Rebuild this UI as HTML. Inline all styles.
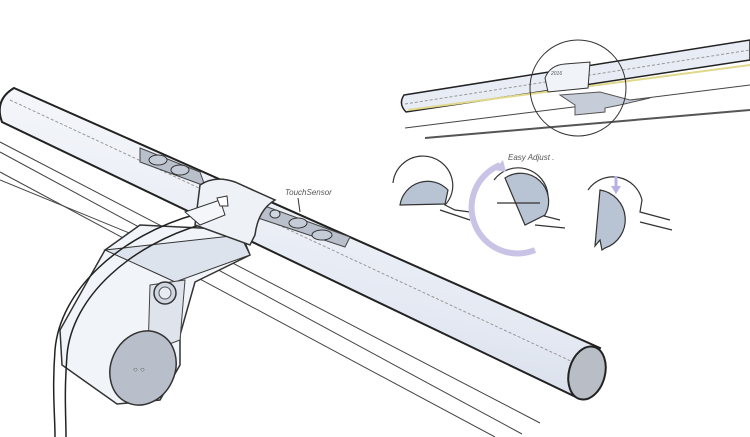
<!DOCTYPE html>
<html><head><meta charset="utf-8"><style>
html,body{margin:0;padding:0;background:#fff;width:750px;height:437px;overflow:hidden}
svg{display:block}
text{font-family:"Liberation Sans",sans-serif;fill:#555;font-style:italic}
</style></head><body>
<svg width="750" height="437" viewBox="0 0 750 437" xmlns="http://www.w3.org/2000/svg">
<defs>
<linearGradient id="bar" x1="0" y1="0" x2="-0.3" y2="1" gradientUnits="objectBoundingBox">
<stop offset="0" stop-color="#f4f6fa"/><stop offset="0.5" stop-color="#e3e8f2"/><stop offset="1" stop-color="#c9d1e0"/>
</linearGradient>
</defs>
<!-- monitor lines -->
<g stroke="#444" stroke-width="1" fill="none">
<path d="M0 142 L540 423"/>
<path d="M0 152 L522 434"/>
<path d="M0 172 L495 437"/>
<path d="M0 180 L200 262"/>
</g>
<!-- clamp body -->
<path d="M105 250 L140 225 L240 230 L250 255 L195 282 L180 335 L180 365 L160 400 L117 404 L62 365 L60 330 Z" fill="#f1f4f8" stroke="#333" stroke-width="1.5"/>
<path d="M105 250 L240 235 L250 255 L175 282 L160 275 Z" fill="#dde3ec" stroke="#333" stroke-width="1"/>
<path d="M150 285 L185 280 L180 340 L148 352 Z" fill="#dfe4ec" stroke="#444" stroke-width="1"/>
<circle cx="165" cy="293" r="11" fill="#cfd6e2" stroke="#333" stroke-width="1.5"/>
<circle cx="165" cy="293" r="6" fill="#e8ecf2" stroke="#555"/>
<ellipse cx="143" cy="368" rx="32" ry="38" transform="rotate(25 143 368)" fill="#b9bfca" stroke="#333" stroke-width="1.5"/>
<text x="133" y="372" font-size="8" style="font-style:normal" fill="#444">○ ○</text>
<!-- cable -->
<path d="M197 214 C120 235 60 290 55 350 C52 390 55 415 55 437" fill="none" stroke="#222" stroke-width="1.5"/>
<path d="M203 224 C130 245 72 297 67 355 C64 395 66 415 66 437" fill="none" stroke="#222" stroke-width="1.5"/>
<!-- main bar -->
<path d="M14 88 L600 348 L578 398 L2 122 Q-6 100 14 88 Z" fill="url(#bar)" stroke="#222" stroke-width="2"/>
<path d="M10 100 L590 370" stroke="#999" stroke-width="1" stroke-dasharray="3 2" fill="none"/>
<ellipse cx="587" cy="373" rx="18" ry="27" transform="rotate(15 587 373)" fill="#b8bdc6" stroke="#222" stroke-width="2"/>
<!-- button panels -->
<path d="M140 148 L200 172 L205 186 L140 162 Z" fill="#b9c0cc" stroke="#444"/>
<ellipse cx="158" cy="160" rx="9" ry="5" fill="#c5ccd8" stroke="#333"/>
<ellipse cx="180" cy="170" rx="9" ry="5" fill="#c5ccd8" stroke="#333"/>
<path d="M262 205 L350 237 L345 247 L258 218 Z" fill="#b9c0cc" stroke="#444"/>
<ellipse cx="275" cy="214" rx="5" ry="4" fill="#d0d6e0" stroke="#333"/>
<ellipse cx="298" cy="223" rx="9" ry="5" fill="#c5ccd8" stroke="#333"/>
<ellipse cx="322" cy="235" rx="10" ry="5" fill="#c5ccd8" stroke="#333"/>
<!-- collar -->
<path d="M200 185 Q215 175 235 182 L275 200 Q258 210 255 235 L250 245 L195 225 Z" fill="#eef1f6" stroke="#333" stroke-width="1.5"/>
<path d="M185 212 L220 200 L225 215 L200 225 Z" fill="#f4f6f9" stroke="#333"/>
<path d="M217 198 L227 196 L228 206 L220 206 Z" fill="#fff" stroke="#333"/>
<text x="285" y="195" font-size="8">TouchSensor</text>
<path d="M298 198 L300 212" stroke="#333"/>
<!-- top right lamp -->
<g>
<path d="M404 95 L750 40 L750 60 L406 112 Q398 104 404 95 Z" fill="#e8ecf4" stroke="#222" stroke-width="1.5"/>
<path d="M408 110 L750 65" stroke="#e0d88a" stroke-width="2"/>
<path d="M405 104 L750 50" stroke="#999" stroke-dasharray="3 2"/>
<path d="M405 128 L750 85" stroke="#444"/>
<path d="M425 138 L750 110" stroke="#555" stroke-width="2"/>
<path d="M560 95 L600 92 L630 100 L650 98 L620 105 L605 108 L605 112 L575 115 L575 105 Z" fill="#c6cdd9" stroke="#555"/>
<path d="M545 78 Q550 65 565 64 L590 62 L588 88 L548 92 Z" fill="#f0f3f8" stroke="#333"/>
<text x="551" y="75" font-size="5">2016</text>
<circle cx="578" cy="88" r="48" fill="none" stroke="#333" stroke-width="1"/>
</g>
<!-- rotation diagrams -->
<g stroke="#333" stroke-width="1.2">
<path d="M393 183 A30 30 0 0 1 452 179 A28 28 0 0 1 445 205 L455 210 L470 212" fill="none"/>
<path d="M400 205 A28 28 0 0 1 448 190 L445 204 Z" fill="#b8c3d3"/>
<path d="M440 210 L470 220" fill="none"/>
<path d="M494 180 A30 30 0 0 1 548 195 L540 215 L560 220" fill="none"/>
<path d="M505 178 A28 28 0 0 1 545 215 L525 225 Z" fill="#b8c3d3"/>
<path d="M497 203 L540 203" fill="none"/>
<path d="M535 225 L565 228" fill="none"/>
<path d="M588 190 A30 30 0 0 1 642 200 L640 212 L670 220" fill="none"/>
<path d="M600 190 A30 30 0 0 1 605 248 L602 250 L600 240 L595 246 Z" fill="#b8c3d3"/>
<path d="M640 222 L672 230" fill="none"/>
</g>
<path d="M500 165 A40 40 0 0 0 535 250" fill="none" stroke="#c9c3e6" stroke-width="6"/>
<path d="M494 170 L503 160 L506 172 Z" fill="#c9c3e6"/>
<path d="M616 176 L616 188" stroke="#b8b0e0" stroke-width="3"/>
<path d="M611 186 L616 194 L621 186 Z" fill="#b8b0e0"/>
<text x="508" y="160" font-size="8">Easy Adjust .</text>
</svg>
</body></html>
